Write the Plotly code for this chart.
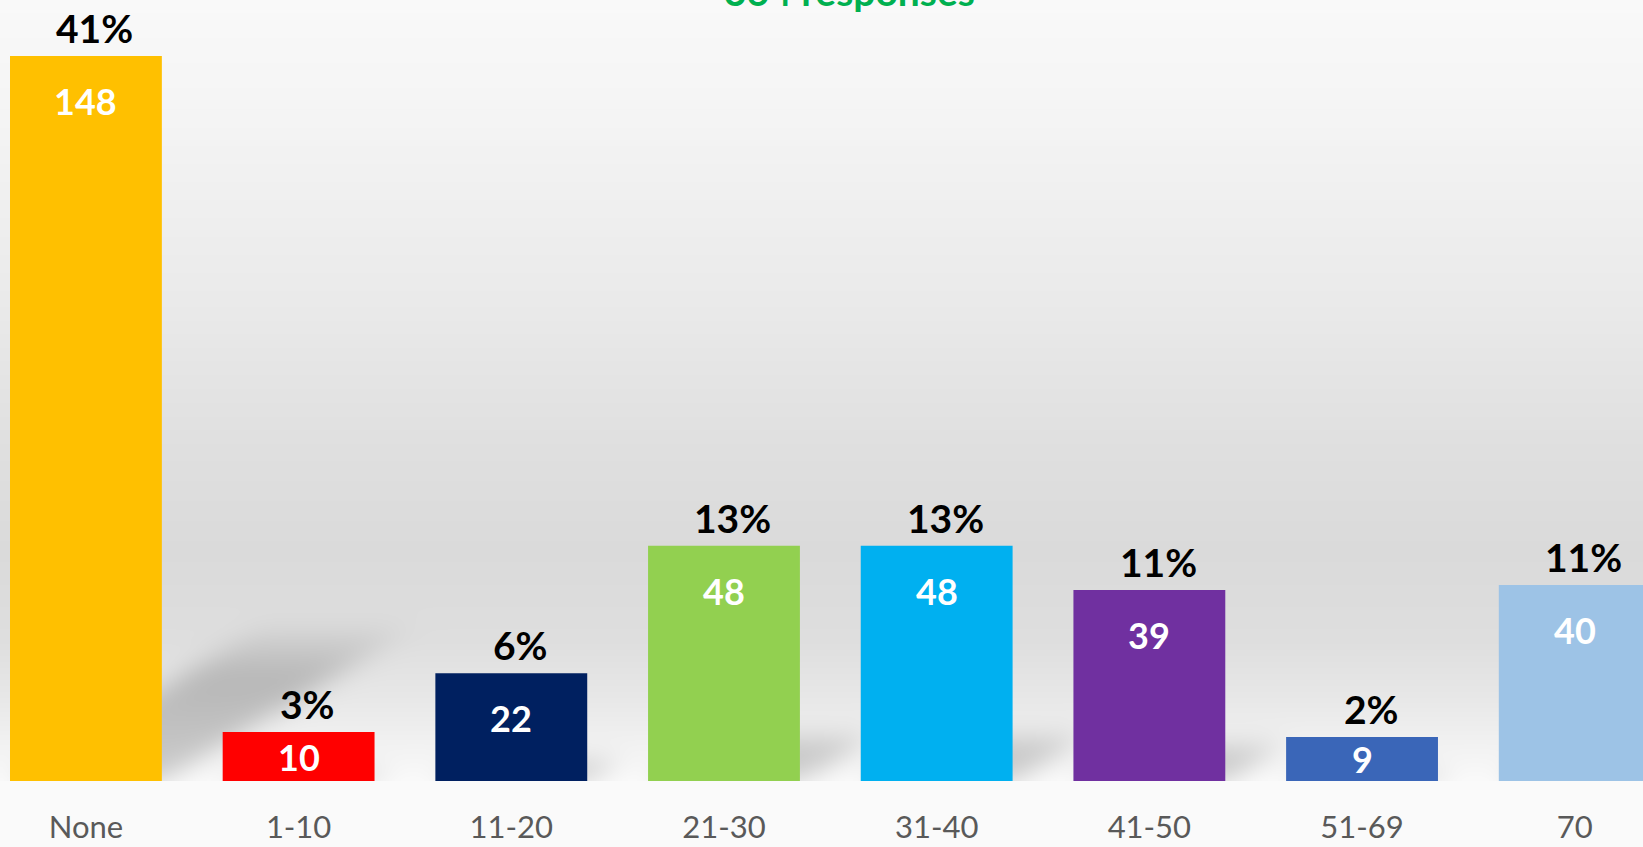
import numpy as np
import plotly.graph_objects as go

# ---- data ----
categories = ["None", "1-10", "11-20", "21-30", "31-40", "41-50", "51-69", "70"]
counts = [148, 10, 22, 48, 48, 39, 9, 40]
percent_labels = ["41%", "3%", "6%", "13%", "13%", "11%", "2%", "11%"]
bar_colors = ["#FFC000", "#FF0000", "#002060", "#92D050", "#00B0F0", "#7030A0", "#3A66B8", "#9DC3E6"]
title_text = "364 responses"

# ---- geometry (axis ranges) ----
W, H = 1643, 847
MB = 66
plot_h = H - MB
x_range = [-0.404, 7.321]
px_per_unit_y = 4.899
y_max = plot_h / px_per_unit_y
y_range = [0, y_max]
bar_width = 0.714
px_per_unit_x = W / (x_range[1] - x_range[0])

xs = list(range(len(categories)))

# ---- decorative background (gradient + soft bar shadows) as a heatmap ----
cell = 4.0
nx = int(W / cell)
ny = int(plot_h / cell)
gx = x_range[0] + (np.arange(nx) + 0.5) * (x_range[1] - x_range[0]) / nx
gy = (np.arange(ny) + 0.5) * y_max / ny
PX = (gx - x_range[0]) * px_per_unit_x
PY = plot_h - gy * px_per_unit_y  # pixel from top
PXg, PYg = np.meshgrid(PX, PY)

prof_y = [0, 100, 300, 450, 550, 640, 700, 760, plot_h]
prof_v = [249, 245, 234, 223, 218, 222, 232, 245, 250]
bg = np.interp(PYg, prof_y, prof_v)

shadow = np.zeros_like(bg)
half_w = bar_width * px_per_unit_x / 2
for xi, v in zip(xs, counts):
    h = v * px_per_unit_y
    cx = (xi - x_range[0]) * px_per_unit_x
    dx, dy = 0.36 * h, 0.22 * h
    t = (plot_h - PYg) / dy
    inside_t = (t >= 0) & (t <= 1)
    left = cx - half_w + t * dx
    right = cx + half_w + t * dx
    m = inside_t & (PXg >= left) & (PXg <= right)
    strength = np.clip((1.0 - t) * 3.0, 0, 1)
    shadow = np.maximum(shadow, m * strength)

# gaussian blur (separable)
sig = 3.0
k = np.exp(-0.5 * (np.arange(-9, 10) / sig) ** 2)
k /= k.sum()
shadow = np.apply_along_axis(lambda r: np.convolve(r, k, mode="same"), 1, shadow)
shadow = np.apply_along_axis(lambda c: np.convolve(c, k, mode="same"), 0, shadow)
z = bg - 45 * shadow

fig = go.Figure()
fig.add_trace(go.Heatmap(
    x=gx, y=gy, z=z, zmin=0, zmax=255, zsmooth="best",
    colorscale=[[0, "rgb(0,0,0)"], [1, "rgb(255,255,255)"]],
    showscale=False, hoverinfo="skip",
))

fig.add_trace(go.Bar(
    x=xs, y=counts, width=bar_width,
    marker=dict(color=bar_colors, line=dict(width=0)),
    hoverinfo="x+y",
))

annotations = []
for xi, v, p in zip(xs, counts, percent_labels):
    annotations.append(dict(
        x=xi, y=v, xref="x", yref="y", text=p, showarrow=False,
        yanchor="bottom", yshift=3, xshift=9,
        font=dict(family="Lato", size=39, color="#000000", weight="bold"),
    ))
    inner_y = v - min(45 / px_per_unit_y, v / 2)
    annotations.append(dict(
        x=xi, y=inner_y, xref="x", yref="y", text=str(v), showarrow=False,
        yanchor="middle",
        font=dict(family="Lato", size=36, color="#FFFFFF", weight="bold"),
    ))

annotations.append(dict(
    x=850 / W, y=1, xref="paper", yref="paper", text=title_text, showarrow=False,
    yanchor="bottom", yshift=-16,
    font=dict(family="Lato", size=39, color="#00B050", weight="bold"),
))

fig.update_layout(
    width=W, height=H,
    margin=dict(l=0, r=0, t=0, b=MB),
    paper_bgcolor="#FAFAFA",
    plot_bgcolor="#FAFAFA",
    showlegend=False,
    annotations=annotations,
    xaxis=dict(
        range=x_range, tickmode="array", tickvals=xs, ticktext=categories,
        showgrid=False, zeroline=False, showline=False,
        ticks="outside", ticklen=19, tickcolor="rgba(0,0,0,0)",
        tickfont=dict(family="Lato", size=31, color="#595959"),
        fixedrange=True,
    ),
    yaxis=dict(
        range=y_range, visible=False, showgrid=False, zeroline=False,
        fixedrange=True,
    ),
)

fig.write_html("out.html", include_plotlyjs=True, config={"displayModeBar": False},
               post_script="document.body.style.margin='0';document.body.style.overflow='hidden';")
